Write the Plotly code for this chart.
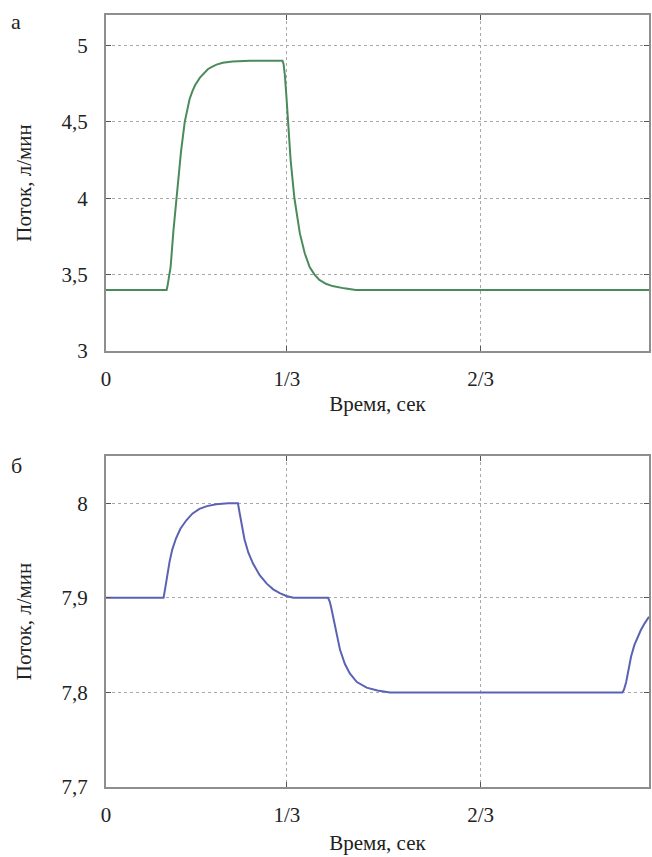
import plotly.graph_objects as go

# ---- data (x as fraction of the period) ----
t_a = [0.0, 0.1116, 0.113, 0.115, 0.119, 0.124, 0.130, 0.134, 0.138, 0.145, 0.150, 0.154,
       0.159, 0.164, 0.173, 0.180, 0.1875, 0.195, 0.2035, 0.215, 0.233, 0.265, 0.325,
       0.327, 0.329, 0.332, 0.335, 0.340, 0.347, 0.352, 0.357, 0.366, 0.375, 0.384,
       0.393, 0.405, 0.417, 0.439, 0.460, 1.0]
flow_a = [3.4, 3.4, 3.42, 3.46, 3.55, 3.78, 4.0, 4.15, 4.3, 4.5, 4.59, 4.65,
          4.70, 4.74, 4.79, 4.82, 4.845, 4.86, 4.875, 4.887, 4.896, 4.9, 4.9,
          4.88, 4.82, 4.68, 4.5, 4.25, 4.0, 3.87, 3.77, 3.64, 3.55, 3.50,
          3.465, 3.44, 3.425, 3.41, 3.4, 3.4]

t_b = [0.0, 0.106, 0.109, 0.113, 0.117, 0.122, 0.129, 0.137, 0.148, 0.159, 0.172, 0.186,
       0.203, 0.225, 0.243, 0.246, 0.250, 0.255, 0.262, 0.271, 0.283, 0.296, 0.308,
       0.320, 0.332, 0.345, 0.409, 0.412, 0.415, 0.419, 0.425, 0.431, 0.440, 0.449,
       0.462, 0.480, 0.500, 0.523, 0.951, 0.954, 0.958, 0.962, 0.967, 0.973, 0.979,
       0.985, 0.992, 1.0]
flow_b = [7.9, 7.9, 7.91, 7.925, 7.938, 7.951, 7.963, 7.973, 7.982, 7.989, 7.994, 7.997,
          7.999, 8.0, 8.0, 7.99, 7.976, 7.962, 7.948, 7.936, 7.924, 7.915, 7.909,
          7.905, 7.902, 7.9, 7.9, 7.896, 7.889, 7.877, 7.86, 7.845, 7.83, 7.82,
          7.811, 7.805, 7.802, 7.8, 7.8, 7.803, 7.811, 7.823, 7.838, 7.85, 7.859,
          7.866, 7.873, 7.88]

x_tickvals = [0, 0.333, 0.69, 1.0]
x_ticktext = ["0", "1/3", "2/3", "1"]
ya_tickvals = [3, 3.5, 4, 4.5, 5]
ya_ticktext = ["3", "3,5", "4", "4,5", "5"]
yb_tickvals = [7.7, 7.8, 7.9, 8.0]
yb_ticktext = ["7,7", "7,8", "7,9", "8"]

FONT = "Liberation Serif"

fig = go.Figure()
fig.add_trace(go.Scatter(x=t_a, y=flow_a, mode="lines",
                         line=dict(color="#4b8b5b", width=2), xaxis="x", yaxis="y"))
fig.add_trace(go.Scatter(x=t_b, y=flow_b, mode="lines",
                         line=dict(color="#5b62b4", width=2), xaxis="x2", yaxis="y2"))

axis_common = dict(showline=True, mirror="ticks", linecolor="#8e8e8e", linewidth=2,
                   ticks="inside", ticklen=5, tickcolor="#555555", tickwidth=1,
                   showgrid=True, gridcolor="#a8a8a8", griddash="dot", gridwidth=1,
                   zeroline=False, automargin=False,
                   tickfont=dict(family=FONT, size=21, color="#222"))

title_font = dict(family=FONT, size=21, color="#222")

fig.update_layout(
    width=652, height=857,
    margin=dict(l=106, r=3, t=15, b=70, autoexpand=False),
    paper_bgcolor="white", plot_bgcolor="white",
    showlegend=False,
    font=dict(family=FONT, size=21, color="#222"),
    xaxis=dict(domain=[0, 1], anchor="y", range=[0, 1], tickvals=x_tickvals,
               ticktext=x_ticktext, ticklabelstandoff=8,
               title=dict(text="Время, сек", font=title_font, standoff=6),
               **axis_common),
    yaxis=dict(domain=[0.5648, 1.0], anchor="x", range=[3, 5.2], tickvals=ya_tickvals,
               ticktext=ya_ticktext, ticklabelstandoff=12,
               title=dict(text="Поток, л/мин", font=title_font, standoff=24),
               **axis_common),
    xaxis2=dict(domain=[0, 1], anchor="y2", range=[0, 1], tickvals=x_tickvals,
                ticktext=x_ticktext, ticklabelstandoff=8,
                title=dict(text="Время, сек", font=title_font, standoff=9),
                **axis_common),
    yaxis2=dict(domain=[0, 0.4288], anchor="x2", range=[7.7, 8.05], tickvals=yb_tickvals,
                ticktext=yb_ticktext, ticklabelstandoff=12,
                title=dict(text="Поток, л/мин", font=title_font, standoff=24),
                **axis_common),
)

fig.add_annotation(text="а", xref="paper", yref="paper", x=-0.165, y=0.991,
                   xanchor="center", yanchor="middle", showarrow=False,
                   font=dict(family=FONT, size=22, color="#222"))
fig.add_annotation(text="б", xref="paper", yref="paper", x=-0.165, y=0.417,
                   xanchor="center", yanchor="middle", showarrow=False,
                   font=dict(family=FONT, size=22, color="#222"))

fig.write_html("out.html", config={"displayModeBar": False},
               post_script="document.body.style.margin='0';document.body.style.overflow='hidden';")
